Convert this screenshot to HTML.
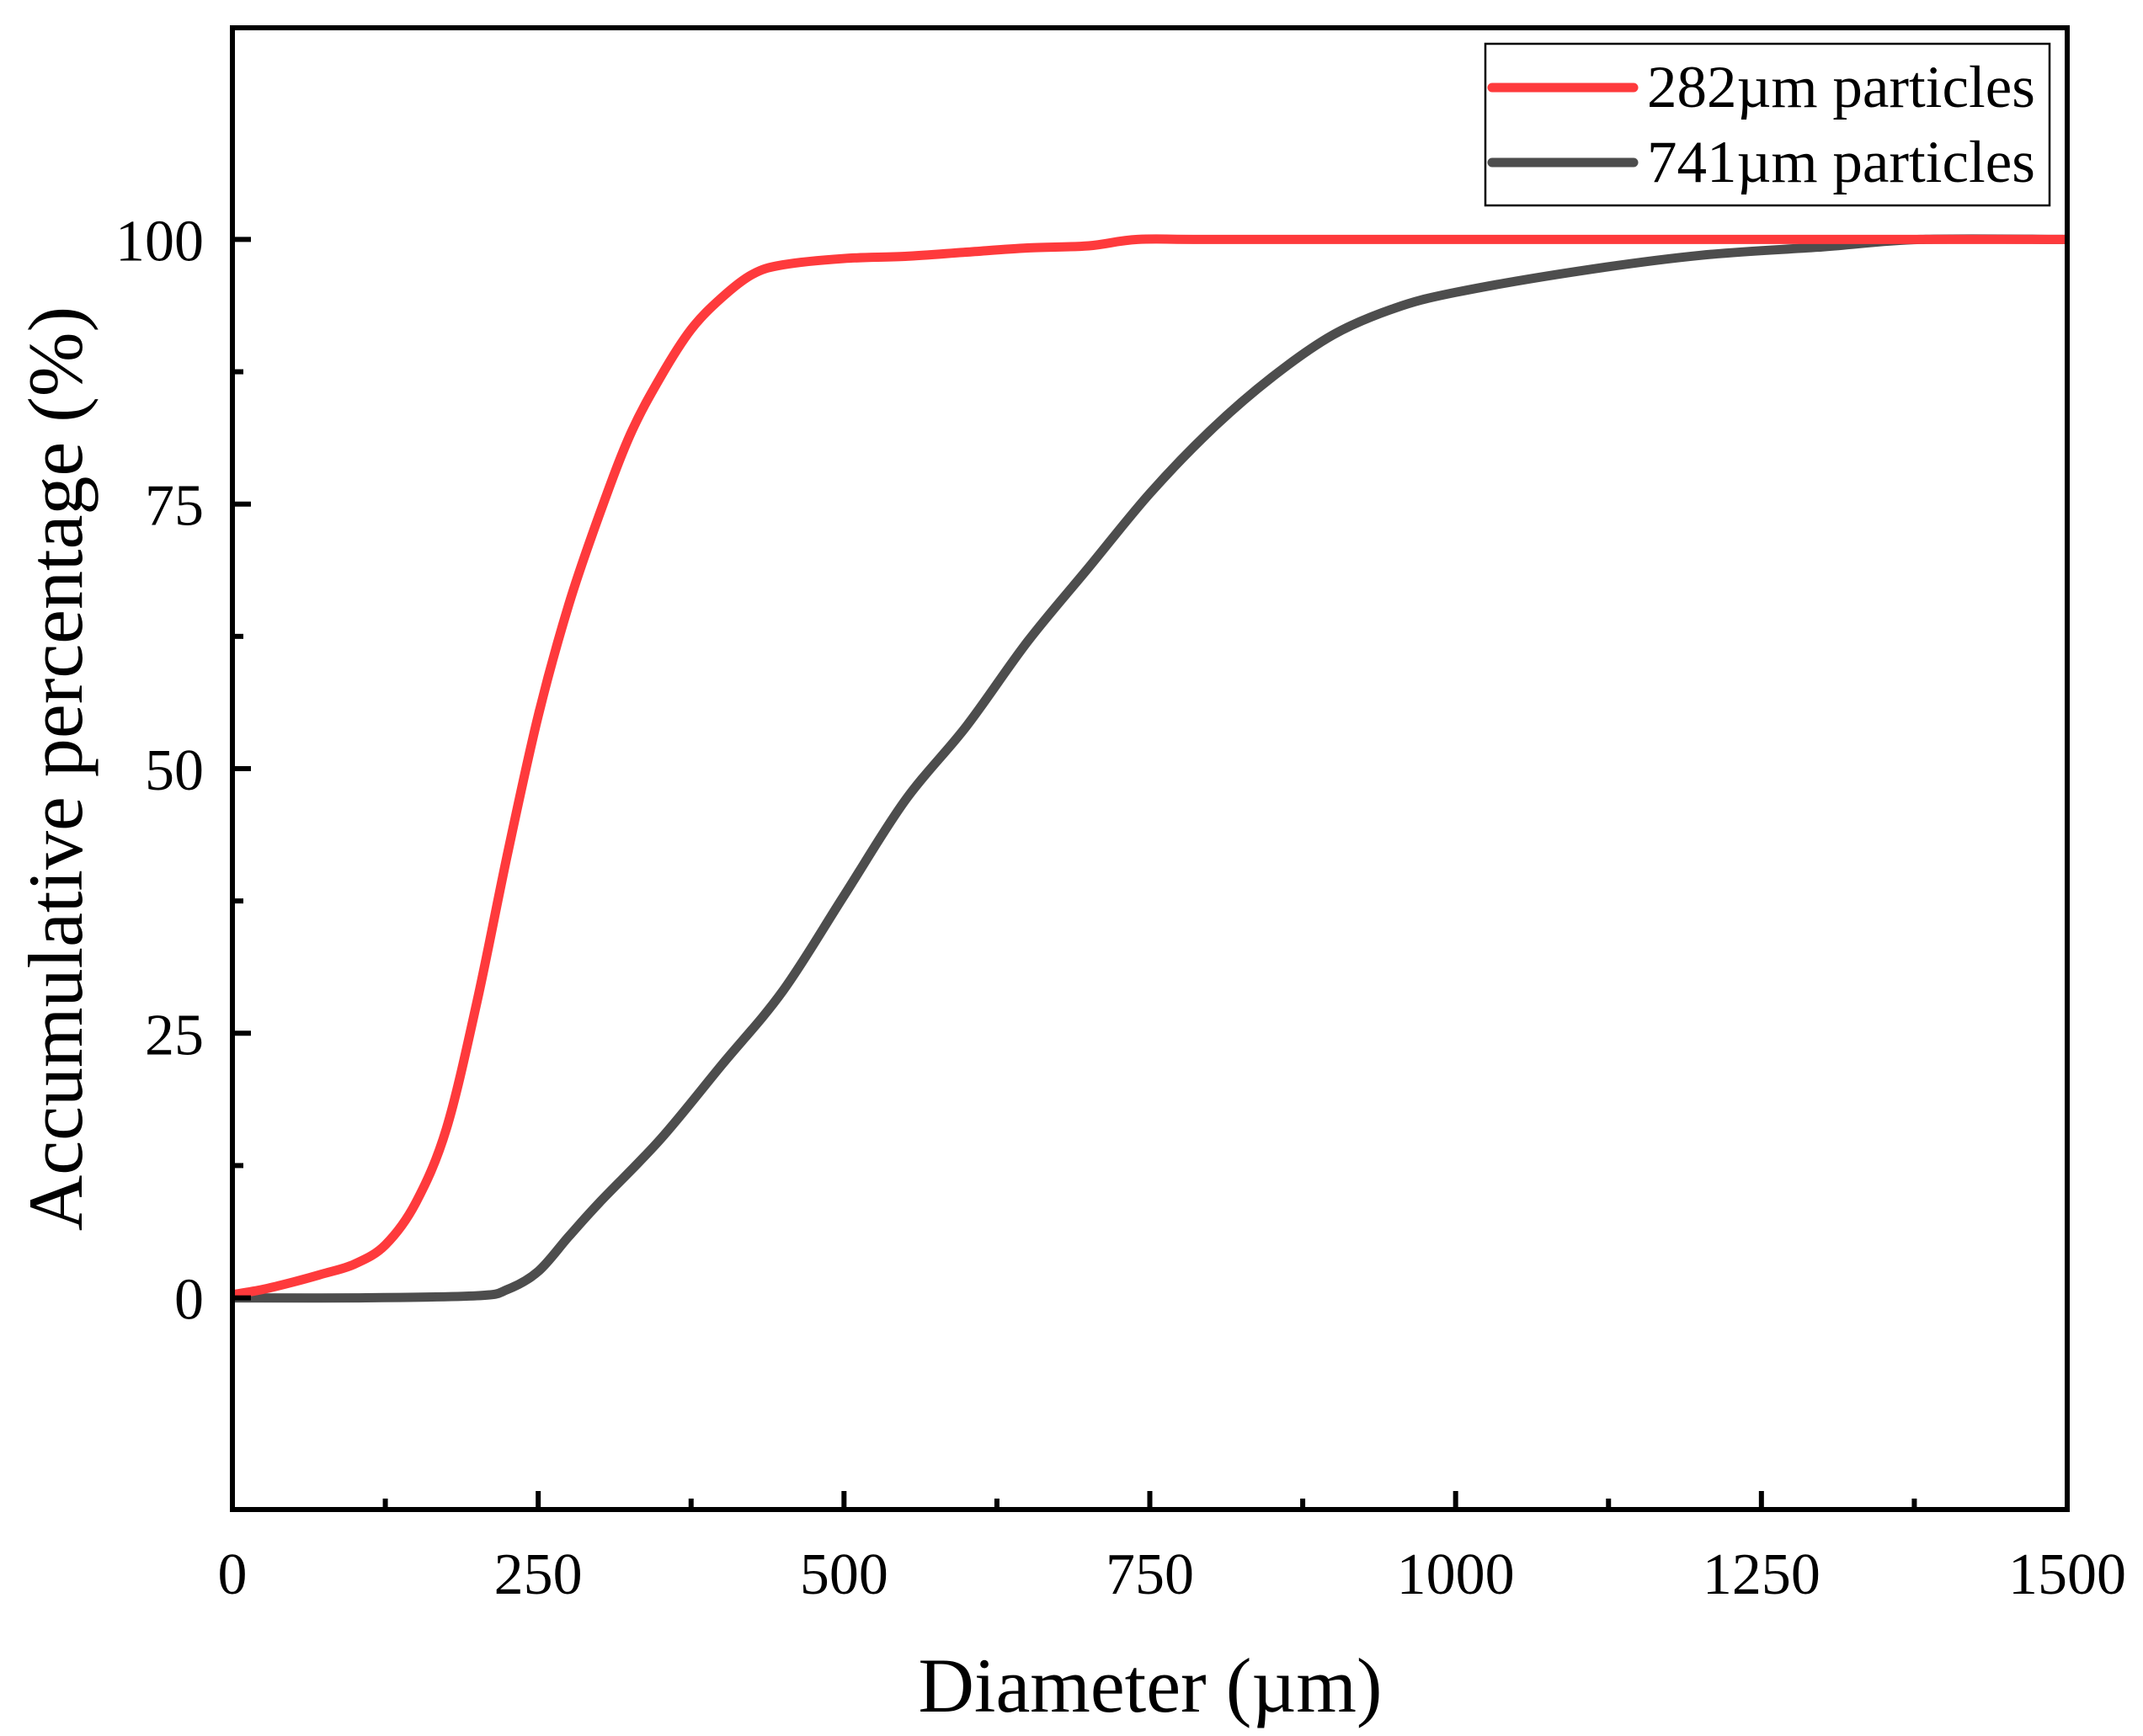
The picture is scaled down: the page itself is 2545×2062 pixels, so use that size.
<!DOCTYPE html>
<html><head><meta charset="utf-8"><style>
html,body{margin:0;padding:0;background:#fff}
svg{display:block;font-family:"Liberation Serif",serif}
</style></head><body>
<svg id="chart" width="2545" height="2062" viewBox="0 0 2545 2062" xmlns="http://www.w3.org/2000/svg">
<g id="marks"></g>
<g id="axes"></g>
<text x="1366" y="2033" font-size="92" text-anchor="middle">Diameter (µm)</text>
<text transform="translate(66,913) rotate(-90)" x="0" y="0" font-size="92" text-anchor="middle" dominant-baseline="central">Accumulative percentage (%)</text>
<g>
<rect x="1764" y="52" width="670" height="192" fill="#fff" stroke="#000" stroke-width="2.5"/>
<line x1="1772" y1="104" x2="1940" y2="104" stroke="#fe3a3c" stroke-width="11" stroke-linecap="round"/>
<text x="1956" y="127" font-size="71">282µm particles</text>
<line x1="1772" y1="193" x2="1940" y2="193" stroke="#4d4d4d" stroke-width="11" stroke-linecap="round"/>
<text x="1956" y="216" font-size="71">741µm particles</text>
</g>
</svg>
<script>
const diam282 = [0,25,50,75,100,125,150,175,200,225,250,275,300,325,350,375,400,425,450,500,550,600,650,700,740,800,1000,1500];
const pct282  = [0.3,0.8,1.5,2.3,3.2,5,9,16,28,42,55,65.5,74,81.5,87,91.5,94.5,96.7,97.6,98.2,98.4,98.8,99.2,99.4,100,100,100,100];
const diam741 = [0,100,200,225,250,275,300,350,400,450,500,550,600,650,700,750,800,850,900,950,1000,1100,1200,1300,1380,1500];
const pct741  = [0,0,0.2,0.8,2.5,5.8,9,15,22,29,38,47,54,62,69,76,82,87,91,93.5,95,97,98.5,99.3,100,100];
const xTicks = [0,250,500,750,1000,1250,1500];
const yTicks = [0,25,50,75,100];

const L=276,R=2455,T=33,B=1793;
const X0=0,X1=1500,Y0=-20,Y1=120;
const sx=v=>L+(v-X0)/(X1-X0)*(R-L);
const sy=v=>B-(v-Y0)/(Y1-Y0)*(B-T);
const NS="http://www.w3.org/2000/svg";
const marks=document.getElementById('marks');
const axes=document.getElementById('axes');
function mk(tag,attrs,parent){const e=document.createElementNS(NS,tag);for(const k in attrs)e.setAttribute(k,attrs[k]);parent.appendChild(e);return e;}

function smoothPath(xs,ys){
  const p=xs.map((x,i)=>[sx(x),sy(ys[i])]);
  let d="M"+p[0][0]+","+p[0][1];
  for(let i=0;i<p.length-1;i++){
    const p0=p[Math.max(0,i-1)],p1=p[i],p2=p[i+1],p3=p[Math.min(p.length-1,i+2)];
    const c1=[p1[0]+(p2[0]-p0[0])/6,p1[1]+(p2[1]-p0[1])/6];
    const c2=[p2[0]-(p3[0]-p1[0])/6,p2[1]-(p3[1]-p1[1])/6];
    d+=" C"+c1[0]+","+c1[1]+" "+c2[0]+","+c2[1]+" "+p2[0]+","+p2[1];
  }
  return d;
}
const g741=mk('path',{d:smoothPath(diam741,pct741),fill:'none',stroke:'#4d4d4d','stroke-width':11,'stroke-linejoin':'round'},marks);


const g282=mk('path',{d:smoothPath(diam282,pct282),fill:'none',stroke:'#fe3a3c','stroke-width':11,'stroke-linejoin':'round'},marks);



const frame=mk('rect',{x:L,y:T,width:R-L,height:B-T,fill:'none',stroke:'#000','stroke-width':6},axes);



xTicks.forEach((v,i)=>{
  const t=mk('line',{x1:sx(v),x2:sx(v),y1:B,y2:B-22,stroke:'#000','stroke-width':6},axes);
  
  
  if(i<xTicks.length-1){
    const m=(v+xTicks[i+1])/2;
    const mt=mk('line',{x1:sx(m),x2:sx(m),y1:B,y2:B-13,stroke:'#000','stroke-width':6},axes);
    
    
  }
  const lb=mk('text',{x:sx(v),y:B+100,'font-size':70,'text-anchor':'middle'},axes);
  lb.textContent=v;
  
  
});
yTicks.forEach((v,i)=>{
  const t=mk('line',{x1:L,x2:L+22,y1:sy(v),y2:sy(v),stroke:'#000','stroke-width':6},axes);
  
  
  if(i<yTicks.length-1){
    const m=(v+yTicks[i+1])/2;
    const mt=mk('line',{x1:L,x2:L+13,y1:sy(m),y2:sy(m),stroke:'#000','stroke-width':6},axes);
    
    
  }
  const lb=mk('text',{x:242,y:sy(v)+25,'font-size':70,'text-anchor':'end'},axes);
  lb.textContent=v;
  
  
});
</script>
</body></html>
